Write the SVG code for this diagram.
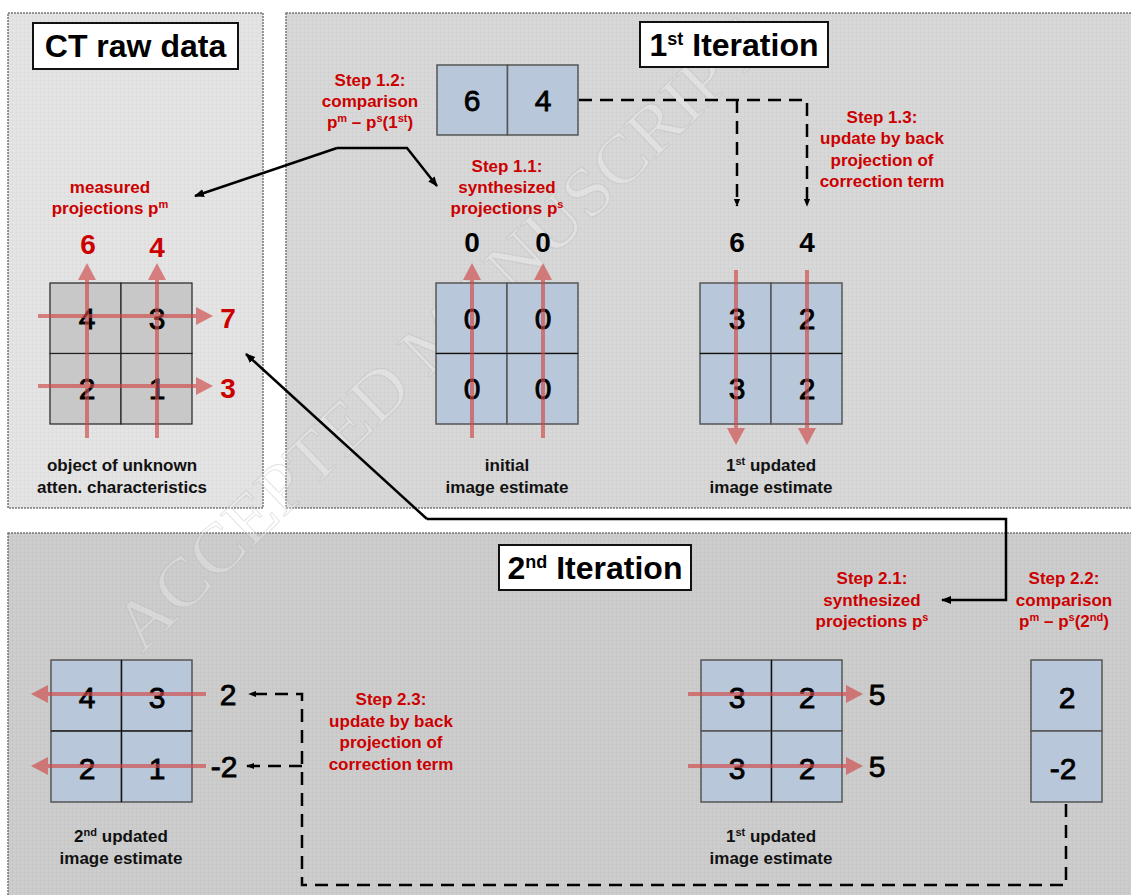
<svg xmlns="http://www.w3.org/2000/svg" width="1131" height="895" viewBox="0 0 1131 895">
<defs>
<marker id="ah" viewBox="0 0 10 10" refX="9" refY="5" markerWidth="10" markerHeight="10" markerUnits="userSpaceOnUse" orient="auto"><path d="M0,1 L10,5 L0,9 Z" fill="#000"/></marker>
<marker id="ahs" viewBox="0 0 10 10" refX="9" refY="5" markerWidth="8" markerHeight="8" markerUnits="userSpaceOnUse" orient="auto"><path d="M0,1 L10,5 L0,9 Z" fill="#000"/></marker>
<pattern id="grid" width="4" height="4" patternUnits="userSpaceOnUse"><path d="M0,0 H4 M0,0 V4" stroke="#000" stroke-opacity="0.04" stroke-width="1"/></pattern>
</defs>
<style>
.panel{stroke:#777;stroke-width:1.5;stroke-dasharray:2 1}
.title{font-family:"Liberation Sans",Arial,sans-serif;font-weight:bold;font-size:32px;text-anchor:middle;fill:#000}
.red{font-family:"Liberation Sans",Arial,sans-serif;font-weight:bold;font-size:17px;fill:#cc0000;text-anchor:middle}
.lbl{font-family:"Liberation Sans",Arial,sans-serif;font-weight:bold;font-size:17px;fill:#111;text-anchor:middle}
.num{font-family:"Liberation Sans",Arial,sans-serif;font-size:30px;fill:#000;stroke:#000;stroke-width:0.8;text-anchor:middle}
.numb{font-family:"Liberation Sans",Arial,sans-serif;font-weight:bold;font-size:28px;fill:#000;text-anchor:middle}
.rnum{font-family:"Liberation Sans",Arial,sans-serif;font-weight:bold;font-size:28px;fill:#cc0000;text-anchor:middle}
.cell{fill:#b8c7da;stroke:#555;stroke-width:1.5}
.gcell{fill:#c8c8c8;stroke:#222;stroke-width:1.2}
.ray{opacity:0.65}
.ray line{stroke:#d04848;stroke-width:4}
.ray path{fill:#d04848}
.solid{fill:none;stroke:#000;stroke-width:2.5}
.dash{fill:none;stroke:#000;stroke-width:2.5;stroke-dasharray:13 8}
.sup{font-size:11px}
</style>

<!-- panels -->
<g id="panel-raw"><rect x="8" y="13" width="255" height="495" fill="#e4e4e4" class="panel"/><rect x="8" y="13" width="255" height="495" fill="url(#grid)"/></g>
<g id="panel-iter1"><rect x="286" y="13" width="850" height="495" fill="#d8d8d8" class="panel"/><rect x="286" y="13" width="850" height="495" fill="url(#grid)"/></g>
<g id="panel-iter2"><rect x="8" y="533" width="1128" height="370" fill="#cdcdcd" class="panel"/><rect x="8" y="533" width="1128" height="370" fill="url(#grid)"/></g>

<!-- watermark -->
<text x="455" y="352" transform="rotate(-44 455 352)" font-family="'Liberation Serif','Times New Roman',serif" font-size="70" text-anchor="middle" fill="#ffffff" fill-opacity="0.25" stroke="#aaaaaa" stroke-opacity="0.3" stroke-width="1" textLength="870" lengthAdjust="spacingAndGlyphs">ACCEPTED MANUSCRIPT</text>

<!-- titles -->
<g id="title-raw"><rect x="33" y="23" width="205" height="46" fill="#fff" stroke="#111" stroke-width="2"/><text x="135.5" y="57" class="title">CT raw data</text></g>
<g id="title-iter1"><rect x="640" y="22" width="188" height="45" fill="#fff" stroke="#111" stroke-width="2"/><text x="734" y="56" class="title" font-size="31">1<tspan font-size="18" dy="-11">st</tspan><tspan dy="11"> Iteration</tspan></text></g>
<g id="title-iter2"><rect x="499" y="545" width="192" height="45" fill="#fff" stroke="#111" stroke-width="2"/><text x="595" y="579" class="title" font-size="31">2<tspan font-size="18" dy="-11">nd</tspan><tspan dy="11"> Iteration</tspan></text></g>

<!-- CT raw data object -->
<g id="raw-object">
<text x="110" y="193" class="red">measured</text>
<text x="110" y="214" class="red">projections p<tspan class="sup" dy="-6">m</tspan></text>
<rect x="50" y="283" width="71" height="70.5" class="gcell"/><rect x="121" y="283" width="71" height="70.5" class="gcell"/>
<rect x="50" y="353.5" width="71" height="70.5" class="gcell"/><rect x="121" y="353.5" width="71" height="70.5" class="gcell"/>
<text x="87" y="329" class="num">4</text><text x="157" y="329" class="num">3</text>
<text x="87" y="399" class="num">2</text><text x="157" y="399" class="num">1</text>
<g class="ray"><line x1="87" y1="438" x2="87" y2="278"/><path d="M78,280 L87,263 L96,280 Z"/>
<line x1="157" y1="438" x2="157" y2="278"/><path d="M148,280 L157,263 L166,280 Z"/>
<line x1="38" y1="316" x2="198" y2="316"/><path d="M196,307 L213,316 L196,325 Z"/>
<line x1="38" y1="386" x2="198" y2="386"/><path d="M196,377 L213,386 L196,395 Z"/></g>
<text x="88" y="254" class="rnum">6</text><text x="157" y="257" class="rnum">4</text>
<text x="228" y="328" class="rnum">7</text><text x="228" y="398" class="rnum">3</text>
<text x="122" y="471" class="lbl">object of unknown</text>
<text x="122" y="493" class="lbl">atten. characteristics</text>
</g>

<!-- Step 1.2 -->
<g id="step12">
<text x="370" y="86" class="red">Step 1.2:</text>
<text x="370" y="107" class="red">comparison</text>
<text x="370" y="128" class="red">p<tspan class="sup" dy="-6">m</tspan><tspan dy="6"> – p</tspan><tspan class="sup" dy="-6">s</tspan><tspan dy="6">(1</tspan><tspan class="sup" dy="-6">st</tspan><tspan dy="6">)</tspan></text>
<rect x="437" y="65" width="70.5" height="70" class="cell"/><rect x="507.5" y="65" width="70.5" height="70" class="cell"/>
<text x="472" y="111" class="num">6</text><text x="543" y="111" class="num">4</text>
</g>

<!-- Step 1.1 -->
<g id="step11">
<text x="507" y="172" class="red">Step 1.1:</text>
<text x="507" y="193" class="red">synthesized</text>
<text x="507" y="214" class="red">projections p<tspan class="sup" dy="-6">s</tspan></text>
<text x="472" y="252" class="numb">0</text><text x="543" y="252" class="numb">0</text>
</g>

<!-- initial image estimate -->
<g id="initial-estimate">
<rect x="436" y="283" width="71" height="70.5" class="cell"/><rect x="507" y="283" width="71" height="70.5" class="cell"/>
<rect x="436" y="353.5" width="71" height="70.5" class="cell"/><rect x="507" y="353.5" width="71" height="70.5" class="cell"/>
<line x1="436" y1="353.5" x2="578" y2="353.5" stroke="#111" stroke-width="1.2"/>
<text x="472" y="329" class="num">0</text><text x="543" y="329" class="num">0</text>
<text x="472" y="399" class="num">0</text><text x="543" y="399" class="num">0</text>
<g class="ray"><line x1="472" y1="438" x2="472" y2="278"/><path d="M463,280 L472,263 L481,280 Z"/>
<line x1="543" y1="438" x2="543" y2="278"/><path d="M534,280 L543,263 L552,280 Z"/></g>
<text x="507" y="471" class="lbl">initial</text>
<text x="507" y="493" class="lbl">image estimate</text>
</g>

<!-- Step 1.3 -->
<g id="step13">
<text x="882" y="123" class="red">Step 1.3:</text>
<text x="882" y="144" class="red">update by back</text>
<text x="882" y="166" class="red">projection of</text>
<text x="882" y="187" class="red">correction term</text>
<text x="737" y="252" class="numb">6</text><text x="807" y="252" class="numb">4</text>
</g>

<!-- 1st updated image estimate (top) -->
<g id="updated1-top">
<rect x="700" y="283" width="71" height="70.5" class="cell"/><rect x="771" y="283" width="71" height="70.5" class="cell"/>
<rect x="700" y="353.5" width="71" height="70.5" class="cell"/><rect x="771" y="353.5" width="71" height="70.5" class="cell"/>
<line x1="700" y1="353.5" x2="842" y2="353.5" stroke="#111" stroke-width="1.2"/>
<text x="737" y="329" class="num">3</text><text x="807" y="329" class="num">2</text>
<text x="737" y="399" class="num">3</text><text x="807" y="399" class="num">2</text>
<g class="ray"><line x1="736" y1="270" x2="736" y2="430"/><path d="M727,428 L736,445 L745,428 Z"/>
<line x1="807" y1="270" x2="807" y2="430"/><path d="M798,428 L807,445 L816,428 Z"/></g>
<text x="771" y="471" class="lbl">1<tspan class="sup" dy="-6">st</tspan><tspan dy="6"> updated</tspan></text>
<text x="771" y="493" class="lbl">image estimate</text>
</g>

<!-- Step 2.1 / 2.2 -->
<g id="step21">
<text x="872" y="584" class="red">Step 2.1:</text>
<text x="872" y="606" class="red">synthesized</text>
<text x="872" y="627" class="red">projections p<tspan class="sup" dy="-6">s</tspan></text>
</g>
<g id="step22">
<text x="1064" y="584" class="red">Step 2.2:</text>
<text x="1064" y="606" class="red">comparison</text>
<text x="1064" y="627" class="red">p<tspan class="sup" dy="-6">m</tspan><tspan dy="6"> – p</tspan><tspan class="sup" dy="-6">s</tspan><tspan dy="6">(2</tspan><tspan class="sup" dy="-6">nd</tspan><tspan dy="6">)</tspan></text>
<rect x="1031" y="660" width="71" height="71" class="cell"/><rect x="1031" y="731" width="71" height="71" class="cell"/>
<text x="1067" y="708" class="num">2</text><text x="1063" y="779" class="num">-2</text>
</g>

<!-- 1st updated image estimate (bottom) -->
<g id="updated1-bottom">
<rect x="701" y="660" width="70.5" height="71" class="cell"/><rect x="771.5" y="660" width="70.5" height="71" class="cell"/>
<rect x="701" y="731" width="70.5" height="71" class="cell"/><rect x="771.5" y="731" width="70.5" height="71" class="cell"/>
<line x1="771.5" y1="660" x2="771.5" y2="802" stroke="#111" stroke-width="1.2"/>
<text x="737" y="708" class="num">3</text><text x="807" y="708" class="num">2</text>
<text x="737" y="779" class="num">3</text><text x="807" y="779" class="num">2</text>
<g class="ray"><line x1="688" y1="694" x2="848" y2="694"/><path d="M846,685 L863,694 L846,703 Z"/>
<line x1="688" y1="766" x2="848" y2="766"/><path d="M846,757 L863,766 L846,775 Z"/></g>
<text x="877" y="705" class="num">5</text><text x="877" y="777" class="num">5</text>
<text x="771" y="842" class="lbl">1<tspan class="sup" dy="-6">st</tspan><tspan dy="6"> updated</tspan></text>
<text x="771" y="864" class="lbl">image estimate</text>
</g>

<!-- Step 2.3 -->
<g id="step23">
<text x="391" y="705" class="red">Step 2.3:</text>
<text x="391" y="727" class="red">update by back</text>
<text x="391" y="748" class="red">projection of</text>
<text x="391" y="770" class="red">correction term</text>
<text x="228" y="705" class="num">2</text><text x="224" y="777" class="num">-2</text>
</g>

<!-- 2nd updated image estimate -->
<g id="updated2">
<rect x="51" y="660" width="70.5" height="71" class="cell"/><rect x="121.5" y="660" width="70.5" height="71" class="cell"/>
<rect x="51" y="731" width="70.5" height="71" class="cell"/><rect x="121.5" y="731" width="70.5" height="71" class="cell"/>
<line x1="121.5" y1="660" x2="121.5" y2="802" stroke="#111" stroke-width="1.2"/>
<line x1="51" y1="731" x2="192" y2="731" stroke="#111" stroke-width="1.2"/>
<text x="87" y="708" class="num">4</text><text x="157" y="708" class="num">3</text>
<text x="87" y="779" class="num">2</text><text x="157" y="779" class="num">1</text>
<g class="ray"><line x1="206" y1="694" x2="46" y2="694"/><path d="M48,685 L31,694 L48,703 Z"/>
<line x1="206" y1="766" x2="46" y2="766"/><path d="M48,757 L31,766 L48,775 Z"/></g>
<text x="121" y="842" class="lbl">2<tspan class="sup" dy="-6">nd</tspan><tspan dy="6"> updated</tspan></text>
<text x="121" y="864" class="lbl">image estimate</text>
</g>

<!-- connectors -->
<g id="connectors">
<path class="solid" d="M337,148 L195,196" marker-end="url(#ah)"/>
<path class="solid" d="M337,148 H407 L437,186" marker-end="url(#ah)"/>
<path class="solid" d="M427,519 L246,354" marker-end="url(#ah)"/>
<path class="solid" d="M427,519 H1006 V600 H942" marker-end="url(#ah)"/>
<path class="dash" d="M579,100 H807 V206" marker-end="url(#ahs)"/>
<path class="dash" d="M737,100 V206" marker-end="url(#ahs)"/>
<path class="dash" d="M1066,804 V885 H302 V694 H249" marker-end="url(#ahs)"/>
<path class="dash" d="M302,766 H247" marker-end="url(#ahs)"/>
</g>
</svg>
